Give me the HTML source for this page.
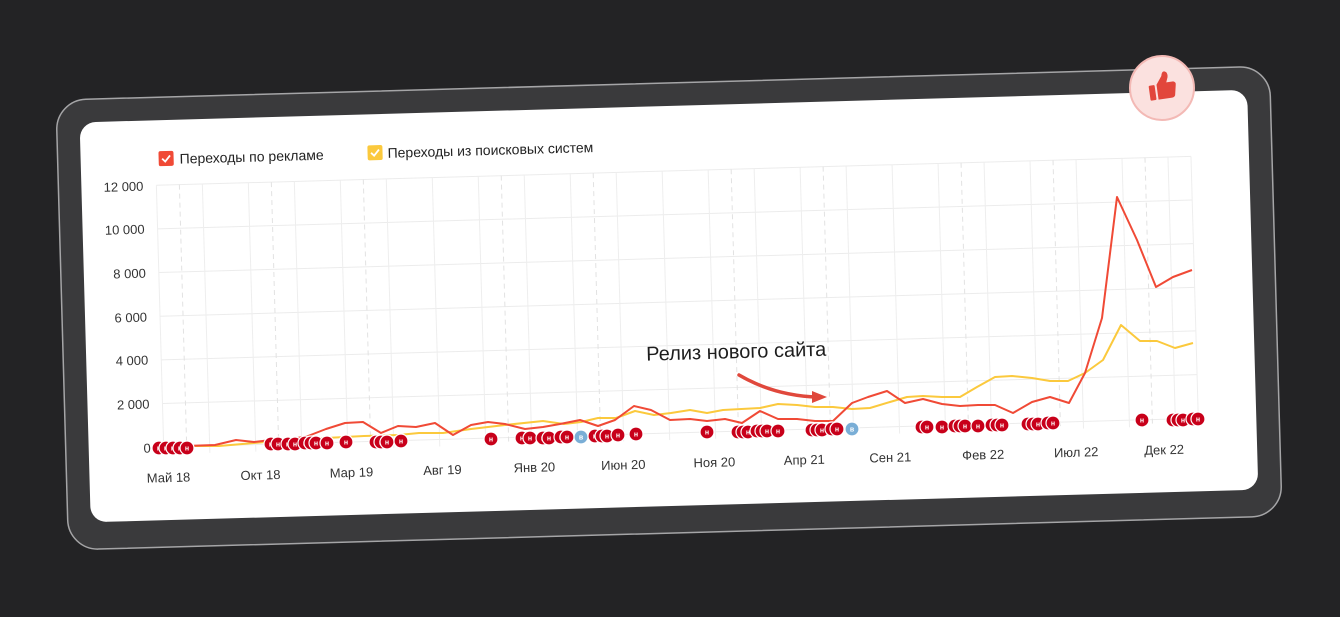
<!DOCTYPE html>
<html><head><meta charset="utf-8"><style>
html,body{margin:0;padding:0;background:#232325;}
svg{display:block;}
text{font-family:"Liberation Sans","DejaVu Sans",sans-serif;}
</style></head><body>
<svg width="1340" height="617" viewBox="0 0 1340 617" xmlns="http://www.w3.org/2000/svg">
<rect width="1340" height="617" fill="#232325"/>
<g transform="rotate(-1.6 670 308)">
  <rect x="62" y="83" width="1214" height="450" rx="30" fill="#3a3a3c" stroke="#a5a5a7" stroke-width="1.5"/>
  <rect x="85" y="106" width="1168" height="400" rx="16" fill="#ffffff"/>
  <rect x="163" y="137" width="15" height="15" rx="2" fill="#f04a36"/>
  <path d="M166.5 144.5 l3 3 l5 -6" stroke="#fff" stroke-width="1.8" fill="none"/>
  <text x="184" y="150" font-size="14" fill="#222">Переходы по рекламе</text>
  <rect x="372" y="137" width="15" height="15" rx="2" fill="#fbc93d"/>
  <path d="M375.5 144.5 l3 3 l5 -6" stroke="#fff" stroke-width="1.8" fill="none"/>
  <text x="392" y="150" font-size="14" fill="#222">Переходы из поисковых систем</text>
  <g stroke="#ececec" stroke-width="1">
    <line x1="160" y1="389.3" x2="1195" y2="389.3"/>
    <line x1="160" y1="345.6" x2="1195" y2="345.6"/>
    <line x1="160" y1="302" x2="1195" y2="302"/>
    <line x1="160" y1="258.3" x2="1195" y2="258.3"/>
    <line x1="160" y1="214.6" x2="1195" y2="214.6"/>
    <line x1="160" y1="171" x2="1195" y2="171"/>
    <line x1="160" y1="433" x2="1195" y2="433"/>
  </g>
  <g stroke="#eeeeee" stroke-width="1">
    <line x1="160" y1="171" x2="160" y2="440"/><line x1="206" y1="171" x2="206" y2="440"/><line x1="252" y1="171" x2="252" y2="440"/><line x1="298" y1="171" x2="298" y2="440"/><line x1="344" y1="171" x2="344" y2="440"/><line x1="390" y1="171" x2="390" y2="440"/><line x1="436" y1="171" x2="436" y2="440"/><line x1="482" y1="171" x2="482" y2="440"/><line x1="528" y1="171" x2="528" y2="440"/><line x1="574" y1="171" x2="574" y2="440"/><line x1="620" y1="171" x2="620" y2="440"/><line x1="666" y1="171" x2="666" y2="440"/><line x1="712" y1="171" x2="712" y2="440"/><line x1="758" y1="171" x2="758" y2="440"/><line x1="804" y1="171" x2="804" y2="440"/><line x1="850" y1="171" x2="850" y2="440"/><line x1="896" y1="171" x2="896" y2="440"/><line x1="942" y1="171" x2="942" y2="440"/><line x1="988" y1="171" x2="988" y2="440"/><line x1="1034" y1="171" x2="1034" y2="440"/><line x1="1080" y1="171" x2="1080" y2="440"/><line x1="1126" y1="171" x2="1126" y2="440"/><line x1="1172" y1="171" x2="1172" y2="440"/><line x1="1195" y1="171" x2="1195" y2="440"/>
  </g>
  <g stroke="#e2e2e2" stroke-width="1" stroke-dasharray="5 4">
    <line x1="183" y1="171" x2="183" y2="440"/><line x1="275" y1="171" x2="275" y2="440"/><line x1="367" y1="171" x2="367" y2="440"/><line x1="505" y1="171" x2="505" y2="440"/><line x1="597" y1="171" x2="597" y2="440"/><line x1="735" y1="171" x2="735" y2="440"/><line x1="827" y1="171" x2="827" y2="440"/><line x1="965" y1="171" x2="965" y2="440"/><line x1="1057" y1="171" x2="1057" y2="440"/><line x1="1149" y1="171" x2="1149" y2="440"/>
  </g>
  <g font-size="13" fill="#333" text-anchor="end">
    <text x="147" y="438">0</text>
    <text x="147" y="394">2 000</text>
    <text x="147" y="350">4 000</text>
    <text x="147" y="307">6 000</text>
    <text x="147" y="263">8 000</text>
    <text x="147" y="219">10 000</text>
    <text x="147" y="176">12 000</text>
  </g>
  <g font-size="13" fill="#333" text-anchor="middle">
    <text x="164" y="468">Май 18</text>
    <text x="256" y="468">Окт 18</text>
    <text x="347" y="468">Мар 19</text>
    <text x="438" y="468">Авг 19</text>
    <text x="530" y="468">Янв 20</text>
    <text x="619" y="468">Июн 20</text>
    <text x="710" y="468">Ноя 20</text>
    <text x="800" y="468">Апр 21</text>
    <text x="886" y="468">Сен 21</text>
    <text x="979" y="468">Фев 22</text>
    <text x="1072" y="468">Июл 22</text>
    <text x="1160" y="468">Дек 22</text>
  </g>
  <text x="735" y="360" font-size="20" fill="#1d1d1d" text-anchor="middle">Релиз нового сайта</text>
</g>
<polyline fill="none" stroke="#fbc93d" stroke-width="2" stroke-linejoin="round" points="161,446 219,446 254,443 288,440 326,438 364,436 398,435 419,433 443,433 471,429 505,425 543,421 564,424 581,422 598,418 616,418 635,411 654,415 671,413 690,410 707,413 723,410 760,408 778,404 797,405 815,407 833,407 852,409 870,408 890,402 907,397 923,396 942,397 960,397 977,387 995,377 1012,376 1032,378 1050,381 1068,381 1085,373 1103,360 1121,325 1140,341 1157,341 1175,348 1193,343"/>
<polyline fill="none" stroke="#f04a36" stroke-width="2" stroke-linejoin="round" points="155,447 185,446 215,445 236,440 254,442 271,440 292,439 308,436 326,429 345,423 363,422 381,433 398,426 416,427 435,423 453,435 471,425 488,422 505,424 525,429 543,427 560,424 580,420 598,426 615,420 634,406 651,410 670,420 690,419 707,421 725,419 742,423 760,411 778,419 797,419 815,421 833,421 852,403 868,397 887,391 905,403 923,399 942,404 960,406 978,405 995,405 1013,413 1032,402 1050,397 1069,403 1085,373 1102,318 1117,197 1137,240 1156,287 1173,277 1192,270"/>
<path d="M739 375 Q775 396 818 397" fill="none" stroke="#e0483c" stroke-width="3.5" stroke-linecap="round"/>
<path d="M812 391 L827 397 L812 403 Z" fill="#e0483c"/>
<defs>
<g id="m"><circle r="7" fill="#c8001a" stroke="#fff" stroke-width="1.2"/><text y="2.5" font-size="7" font-weight="bold" fill="#fff" text-anchor="middle">н</text></g>
<g id="b"><circle r="7" fill="#7aaed6" stroke="#fff" stroke-width="1.2"/><text y="2.5" font-size="7" font-weight="bold" fill="#fff" text-anchor="middle">в</text></g>
</defs>
<use href="#m" x="159" y="448"/><use href="#m" x="166" y="448"/><use href="#m" x="173" y="448"/><use href="#m" x="180" y="448"/><use href="#m" x="187" y="448"/>
<use href="#m" x="271" y="444"/><use href="#m" x="278" y="444"/><use href="#m" x="288" y="444"/><use href="#m" x="295" y="444"/><use href="#m" x="305" y="443"/><use href="#m" x="311" y="443"/><use href="#m" x="316" y="443"/><use href="#m" x="327" y="443"/><use href="#m" x="346" y="442"/>
<use href="#m" x="376" y="442"/><use href="#m" x="381" y="442"/><use href="#m" x="387" y="442"/><use href="#m" x="401" y="441"/>
<use href="#m" x="491" y="439"/><use href="#m" x="522" y="438"/><use href="#m" x="530" y="438"/><use href="#m" x="543" y="438"/><use href="#m" x="549" y="438"/><use href="#m" x="561" y="437"/><use href="#m" x="567" y="437"/>
<use href="#b" x="581" y="437"/>
<use href="#m" x="595" y="436"/><use href="#m" x="602" y="436"/><use href="#m" x="607" y="436"/><use href="#m" x="618" y="435"/><use href="#m" x="636" y="434"/>
<use href="#m" x="707" y="432"/><use href="#m" x="738" y="432"/><use href="#m" x="743" y="432"/><use href="#m" x="748" y="432"/><use href="#m" x="757" y="431"/><use href="#m" x="762" y="431"/><use href="#m" x="767" y="431"/><use href="#m" x="778" y="431"/>
<use href="#m" x="812" y="430"/><use href="#m" x="817" y="430"/><use href="#m" x="822" y="430"/><use href="#m" x="832" y="429"/><use href="#m" x="837" y="429"/>
<use href="#b" x="852" y="429"/>
<use href="#m" x="922" y="427"/><use href="#m" x="927" y="427"/><use href="#m" x="942" y="427"/><use href="#m" x="955" y="426"/><use href="#m" x="960" y="426"/><use href="#m" x="965" y="426"/><use href="#m" x="978" y="426"/><use href="#m" x="992" y="425"/><use href="#m" x="997" y="425"/><use href="#m" x="1002" y="425"/>
<use href="#m" x="1028" y="424"/><use href="#m" x="1033" y="424"/><use href="#m" x="1038" y="424"/><use href="#m" x="1048" y="423"/><use href="#m" x="1053" y="423"/>
<use href="#m" x="1142" y="420"/><use href="#m" x="1173" y="420"/><use href="#m" x="1178" y="420"/><use href="#m" x="1183" y="420"/><use href="#m" x="1193" y="419"/><use href="#m" x="1198" y="419"/>
<circle cx="1162" cy="88" r="32" fill="#fbe1df" stroke="#f3b9b5" stroke-width="2"/>
<g fill="#e2463b" transform="rotate(-8 1162 88)">
  <rect x="1149" y="84" width="6" height="15" rx="1"/>
  <path d="M1157 84 L1163 76 Q1164 71 1167 72 Q1170 73 1169 78 L1167 83 L1174 83 Q1177 84 1176 87 L1174 97 Q1173 99 1170 99 L1157 99 Z"/>
</g>
</svg>
</body></html>
